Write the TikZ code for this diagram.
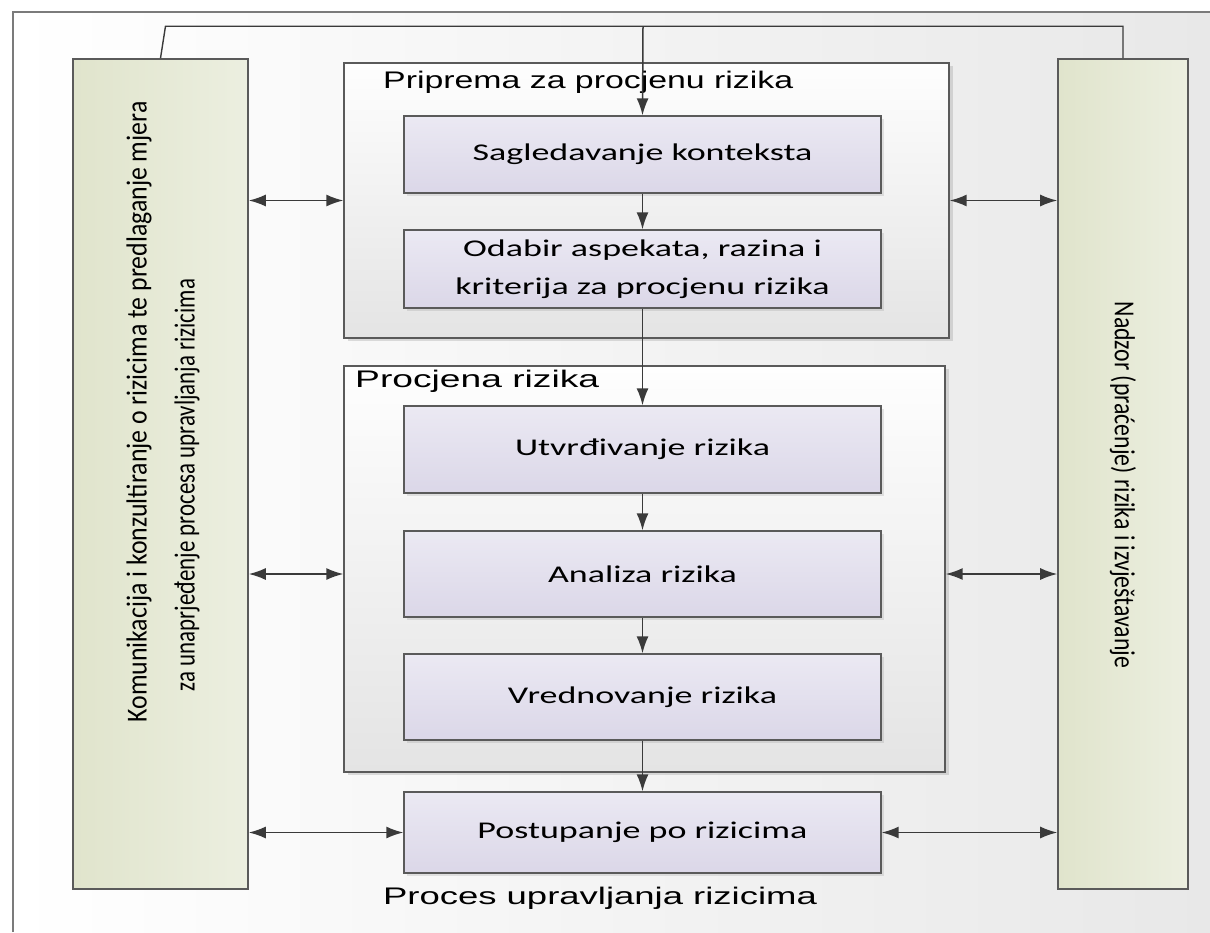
\documentclass[tikz,border=0pt]{standalone}
\usepackage{fontspec}
\usepackage{graphicx}
\setmainfont{Liberation Sans}
\newfontfamily\calibri{Carlito}
\usetikzlibrary{arrows.meta,shadows}

\definecolor{okvir}{HTML}{5A5A5A}
\definecolor{zelena}{HTML}{E0E4CC}
\definecolor{zelenasv}{HTML}{ECEFE0}
\definecolor{lila}{HTML}{DBD7E8}
\definecolor{lilasv}{HTML}{EBE9F3}
\definecolor{siva}{HTML}{E4E4E4}
\definecolor{strelica}{HTML}{3A3A3A}

\newcommand{\siroko}[1]{\scalebox{1.5}[1]{#1}}

\begin{document}
\begin{tikzpicture}[x=1pt,y=-1pt,
  strana/.style={draw=okvir,line width=1.6pt,left color=zelena,right color=zelenasv,
    minimum height=830pt,inner sep=0pt},
  grupa/.style={draw=okvir,line width=1.4pt,top color=white!96!siva,bottom color=siva,
    drop shadow={opacity=0.25,shadow xshift=4pt,shadow yshift=-3pt},inner sep=0pt},
  korak/.style={draw=okvir,line width=1.4pt,top color=lilasv,bottom color=lila,
    minimum width=477pt,inner sep=0pt,align=center,font=\calibri\fontsize{24}{38}\selectfont,
    drop shadow={opacity=0.2,shadow xshift=3pt,shadow yshift=-3pt}},
  naslov/.style={anchor=west,inner sep=0pt,font=\fontsize{24}{28}\selectfont},
  uspravno/.style={inner sep=0pt,font=\calibri\fontsize{29}{34}\selectfont},
  arr/.style={draw=strelica,line width=1.5pt,-{Latex[length=17pt,width=12pt]}},
  dvostr/.style={draw=strelica,line width=1.5pt,{Latex[length=17pt,width=12pt]}-{Latex[length=17pt,width=12pt]}}]
\useasboundingbox (0,0) rectangle (1210,932);
% pozadina
\fill[left color=white,right color=siva!85] (13,12) rectangle (1210,932);
\draw[okvir!80,line width=2.4pt] (13,932) -- (13,12) -- (1210,12);

% bocni okviri
\node[strana,minimum width=175pt] (komunikacija) at (160.5,474) {};
\node[uspravno,rotate=90] (kom1) at (139,412)
  {\scalebox{0.89}[1]{Komunikacija i konzultiranje o rizicima te predlaganje mjera}};
\node[uspravno,rotate=90] (kom2) at (187,485)
  {\scalebox{0.79}[1]{za unaprjeđenje procesa upravljanja rizicima}};
\node[strana,minimum width=130pt] (nadzor) at (1123,474) {};
\node[uspravno,rotate=-90] (nadzor tekst) at (1123,485)
  {\scalebox{0.82}[1]{Nadzor (praćenje) rizika i izvještavanje}};

% grupe
\node[grupa,minimum width=605pt,minimum height=275pt] (priprema) at (646.5,200.5) {};
\node[naslov] at (383,82) {\scalebox{1.41}[1]{Priprema za procjenu rizika}};
\node[grupa,minimum width=601pt,minimum height=406pt] (procjena) at (644.5,569) {};
\node[naslov] at (355,381) {\scalebox{1.55}[1]{Procjena rizika}};

% koraci
\node[korak,minimum height=77pt] (sagledavanje) at (642.5,154.5) {\siroko{Sagledavanje konteksta}};
\node[korak,minimum height=78pt] (odabir) at (642.5,269) {\siroko{Odabir aspekata, razina i}\\\siroko{kriterija za procjenu rizika}};
\node[korak,minimum height=87pt] (utvrdivanje) at (642.5,449.5) {\siroko{Utvrđivanje rizika}};
\node[korak,minimum height=86pt] (analiza) at (642.5,574) {\siroko{Analiza rizika}};
\node[korak,minimum height=86pt] (vrednovanje) at (642.5,697) {\siroko{Vrednovanje rizika}};
\node[korak,minimum height=81pt] (postupanje) at (642.5,832.5) {\siroko{Postupanje po rizicima}};
\node[font=\fontsize{24}{28}\selectfont] (proces) at (600,898) {\scalebox{1.52}[1]{Proces upravljanja rizicima}};

% veze
\coordinate (vrh) at (643,27);
\draw[strelica,line width=1.4pt] (komunikacija.north) -- ++(5,-32) -| (nadzor.north);
\draw[arr] (vrh) -- (sagledavanje.north);
\draw[arr] (sagledavanje) -- (odabir);
\draw[arr] (odabir) -- (utvrdivanje);
\draw[arr] (utvrdivanje) -- (analiza);
\draw[arr] (analiza) -- (vrednovanje);
\draw[arr] (vrednovanje) -- (postupanje);

\draw[dvostr] (komunikacija.east |- priprema.west) -- (priprema.west);
\draw[dvostr] (priprema.east) -- (nadzor.west |- priprema.east);
\draw[dvostr] (komunikacija.east |- analiza.west) -- (procjena.west |- analiza.west);
\draw[dvostr] (procjena.east |- analiza.east) -- (nadzor.west |- analiza.east);
\draw[dvostr] (komunikacija.east |- postupanje.west) -- (postupanje.west);
\draw[dvostr] (postupanje.east) -- (nadzor.west |- postupanje.east);
\end{tikzpicture}
\end{document}
